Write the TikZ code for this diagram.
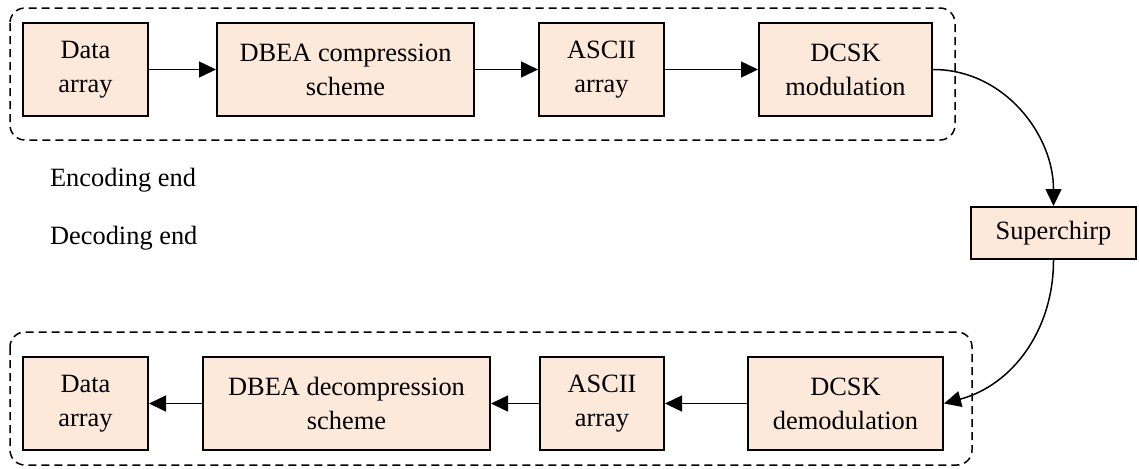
\documentclass[tikz,border=0pt]{standalone}
\usepackage{fontspec}
\setmainfont{Liberation Serif}
\usetikzlibrary{arrows.meta}
\definecolor{boxfill}{RGB}{252,233,218}
\begin{document}
\begin{tikzpicture}[x=0.5pt, y=-0.5pt,
  every node/.style={font=\fontsize{13.2}{17}\selectfont},
  blockbox/.style={draw, line width=1pt, fill=boxfill, align=center, inner sep=0pt, minimum height=46.5pt},
  flow/.style={-{Triangle[length=8.5pt,width=8pt]}, line width=0.75pt},
  groupbox/.style={draw, dashed, dash pattern=on 4pt off 2.5pt, line width=0.75pt, rounded corners=7.5pt}]
\useasboundingbox (0,0) rectangle (1139,468);

\draw[groupbox] (10,8) rectangle (955,140);
\draw[groupbox] (10,332) rectangle (972,465);

% encoding end
\node at (85.5,69.5) [blockbox, minimum width=62.5pt] (D1) {Data\\array};
\node at (345.5,69.5) [blockbox, minimum width=128.5pt] (C1) {DBEA compression\\scheme};
\node at (601.5,69.5) [blockbox, minimum width=62.5pt] (A1) {ASCII\\array};
\node at (845.5,69.5) [blockbox, minimum width=86.5pt] (M1) {DCSK\\modulation};
\draw[flow] (D1) -- (C1);
\draw[flow] (C1) -- (A1);
\draw[flow] (A1) -- (M1);

\node at (1053.5,233) [blockbox, minimum width=82.5pt, minimum height=26pt] (S) {Superchirp};

% decoding end
\node at (85.5,403.5) [blockbox, minimum width=62.5pt] (D2) {Data\\array};
\node at (346.5,403.5) [blockbox, minimum width=143.5pt] (C2) {DBEA decompression\\scheme};
\node at (602,403.5) [blockbox, minimum width=62pt] (A2) {ASCII\\array};
\node at (845.5,403.5) [blockbox, minimum width=97.5pt] (M2) {DCSK\\demodulation};
\draw[flow] (C2) -- (D2);
\draw[flow] (A2) -- (C2);
\draw[flow] (M2) -- (A2);

\draw[flow] (M1.east) to[out=0, in=90] (S.north);
\draw[flow] (S.south) to[out=-90, in=15] (M2.east);

\node at (43,180) [anchor=west] (ENC) {Encoding end};
\node at (43,238) [anchor=west] (DEC) {Decoding end};
\end{tikzpicture}
\end{document}
